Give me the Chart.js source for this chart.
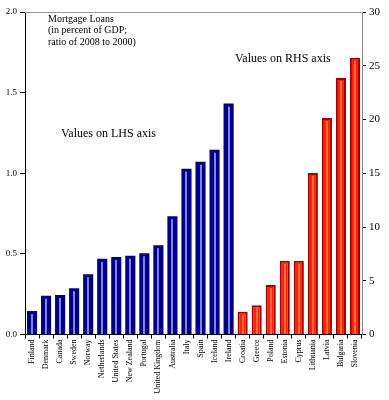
<!DOCTYPE html>
<html>
<head>
<meta charset="utf-8">
<script src="https://cdn.jsdelivr.net/npm/chart.js@4.4.1/dist/chart.umd.min.js"></script>
<style>
  html, body { margin: 0; padding: 0; background: #fff; }
</style>
</head>
<body>
<canvas id="loansChart" width="389" height="400"></canvas>
<script>
// countries plotted against the left axis (blue) and right axis (red)
const lhsCountries = ['Finland', 'Denmark', 'Canada', 'Sweden', 'Norway', 'Netherlands', 'United States',
    'New Zealand', 'Portugal', 'United Kingdom', 'Australia', 'Italy', 'Spain', 'Iceland', 'Ireland'];
const lhsValues = [0.146, 0.241, 0.245, 0.287, 0.374, 0.469, 0.481, 0.489, 0.504, 0.554, 0.734, 1.028, 1.071, 1.146, 1.432];

const rhsCountries = ['Croatia', 'Greece', 'Poland', 'Estonia', 'Cyprus', 'Lithuania', 'Latvia', 'Bulgaria', 'Slovenia'];
const rhsValues = [2.12, 2.72, 4.61, 6.85, 6.85, 15.02, 20.15, 23.87, 25.74];

const lhsTicks = [0, 0.5, 1.0, 1.5, 2.0];
const rhsTicks = [0, 5, 10, 15, 20, 25, 30];

const noteLines = ['Mortgage Loans', '(in percent of GDP;', 'ratio of 2008 to 2000)'];

const labels = lhsCountries.concat(rhsCountries);
const blueData = lhsValues.concat(rhsCountries.map(() => null));
const redData = lhsCountries.map(() => null).concat(rhsValues);

const serif = '"Liberation Serif", "Times New Roman", serif';

// thin light stripe down the middle of each bar, plus the top frame line and the notes
const decor = {
    id: 'decor',
    afterDatasetsDraw(chart) {
        const c = chart.ctx;
        const stripes = ['#8080ff', '#ff6a40'];
        chart.data.datasets.forEach((ds, i) => {
            const meta = chart.getDatasetMeta(i);
            meta.data.forEach((bar, j) => {
                if (ds.data[j] == null) return;
                c.fillStyle = stripes[i];
                c.fillRect(Math.round(bar.x) - 1, bar.y + 3, 2, bar.base - bar.y - 3);
            });
        });
    },
    afterDraw(chart) {
        const c = chart.ctx;
        const a = chart.chartArea;
        c.save();
        c.strokeStyle = '#999';
        c.lineWidth = 1;
        c.beginPath();
        c.moveTo(a.left, a.top + 0.5);
        c.lineTo(a.right, a.top + 0.5);
        c.stroke();

        c.fillStyle = '#000';
        c.textBaseline = 'middle';
        c.font = '10px ' + serif;
        noteLines.forEach((t, i) => c.fillText(t, a.left + 23, a.top + 7 + i * 11.5));
        c.font = '12px ' + serif;
        c.fillText('Values on LHS axis', a.left + 36, 134);
        c.fillText('Values on RHS axis', 235, 59);
        c.restore();
    }
};

const ctx = document.getElementById('loansChart').getContext('2d');
const loansChart = new Chart(ctx, {
    type: 'bar',
    data: {
        labels: labels,
        datasets: [{
            label: 'Values on LHS axis',
            data: blueData,
            yAxisID: 'y',
            backgroundColor: '#000080',
            borderWidth: 0
        }, {
            label: 'Values on RHS axis',
            data: redData,
            yAxisID: 'y2',
            backgroundColor: '#ff2200',
            borderColor: '#a00000',
            borderWidth: { left: 2, right: 2, top: 2, bottom: 0 }
        }]
    },
    plugins: [decor],
    options: {
        responsive: false,
        animation: false,
        maintainAspectRatio: false,
        layout: { padding: { top: 12, left: 0, right: 0, bottom: 0 } },
        plugins: { legend: { display: false }, tooltip: { enabled: false } },
        datasets: { bar: { grouped: false, categoryPercentage: 1, barPercentage: 0.72 } },
        scales: {
            x: {
                grid: { drawOnChartArea: false, tickLength: 4, color: '#000' },
                border: { color: '#000' },
                ticks: {
                    autoSkip: false, maxRotation: 90, minRotation: 90, padding: 1,
                    color: '#000', font: { family: serif, size: 8 }
                },
                afterFit(s) { s.height = 65.5; }
            },
            y: {
                position: 'left',
                min: 0, max: 2,
                afterBuildTicks(s) { s.ticks = lhsTicks.map(v => ({ value: v })); },
                grid: { drawOnChartArea: false, tickLength: 5, color: '#000' },
                border: { color: '#000' },
                ticks: {
                    padding: 3, color: '#000', font: { family: serif, size: 9 },
                    callback: v => v.toFixed(1)
                },
                afterFit(s) { s.width = 25; }
            },
            y2: {
                position: 'right',
                min: 0, max: 30,
                afterBuildTicks(s) { s.ticks = rhsTicks.map(v => ({ value: v })); },
                grid: { drawOnChartArea: false, tickLength: 4, color: '#000' },
                border: { color: '#888' },
                ticks: { padding: 3, color: '#000', font: { family: serif, size: 11 } },
                afterFit(s) { s.width = 27; }
            }
        }
    }
});
</script>
</body>
</html>
